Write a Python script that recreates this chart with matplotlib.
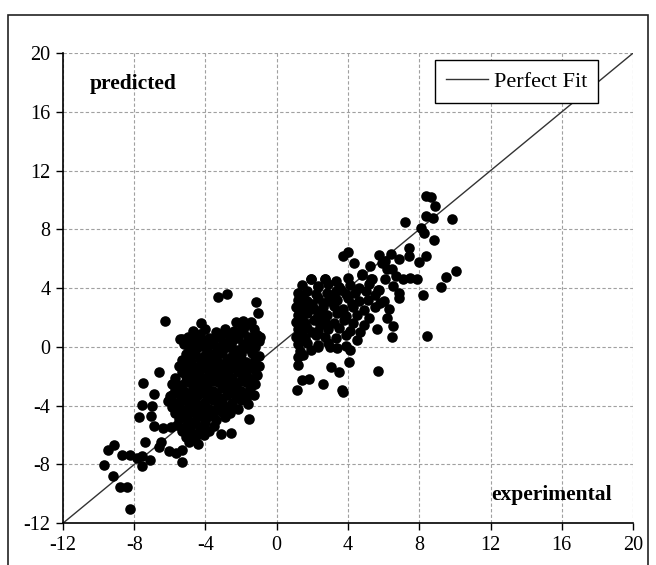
import numpy as np
import matplotlib.pyplot as plt
from matplotlib.patches import Rectangle

# points as (experimental, predicted)
# left group - dense middle part
left_core = [
    (-4.7, 1.1), (-4.0, 1.2), (-3.4, 1.0), (-2.9, 1.2), (-2.4, 1.1), (-1.9, 1.0), (-1.3, 1.2),
    (-5.0, 0.7), (-4.5, 0.8), (-3.8, 0.6), (-3.3, 0.7), (-2.7, 0.8), (-2.2, 0.6), (-1.6, 0.7), (-1.1, 0.8),
    (-5.2, 0.2), (-4.7, 0.3), (-4.2, 0.4), (-3.6, 0.2), (-3.0, 0.3), (-2.5, 0.4), (-1.9, 0.2), (-1.4, 0.3), (-1.0, 0.4),
    (-4.9, -0.1), (-4.4, 0.0), (-3.9, -0.2), (-3.3, -0.1), (-2.8, 0.0), (-2.2, -0.2), (-1.7, -0.1), (-1.2, 0.0),
    (-5.1, -0.5), (-4.6, -0.4), (-4.1, -0.6), (-3.6, -0.5), (-3.1, -0.4), (-2.5, -0.6), (-2.0, -0.5), (-1.4, -0.4), (-1.0, -0.6),
    (-5.3, -0.9), (-4.8, -1.0), (-4.3, -0.8), (-3.8, -0.9), (-3.3, -1.0), (-2.8, -0.8), (-2.3, -0.9), (-1.7, -1.0), (-1.2, -0.8),
    (-5.5, -1.3), (-5.0, -1.2), (-4.5, -1.4), (-4.0, -1.3), (-3.5, -1.2), (-3.0, -1.4), (-2.5, -1.3), (-2.0, -1.2), (-1.5, -1.4), (-1.0, -1.3),
    (-5.3, -1.7), (-4.8, -1.8), (-4.3, -1.6), (-3.8, -1.7), (-3.2, -1.8), (-2.7, -1.6), (-2.2, -1.7), (-1.7, -1.8), (-1.2, -1.6),
    (-5.7, -2.1), (-5.1, -2.0), (-4.6, -2.2), (-4.1, -2.1), (-3.6, -2.0), (-3.0, -2.2), (-2.5, -2.1), (-1.9, -2.0), (-1.4, -2.2), (-1.1, -1.9),
    (-5.9, -2.5), (-5.4, -2.6), (-4.9, -2.4), (-4.4, -2.5), (-3.9, -2.6), (-3.3, -2.4), (-2.8, -2.5), (-2.3, -2.6), (-1.7, -2.4), (-1.2, -2.5),
    (-5.7, -2.9), (-5.2, -3.0), (-4.7, -2.8), (-4.2, -2.9), (-3.6, -3.0), (-3.1, -2.8), (-2.6, -2.9), (-2.0, -3.0), (-1.5, -2.8),
    (-5.9, -3.3), (-5.4, -3.4), (-4.9, -3.2), (-4.4, -3.3), (-3.9, -3.4), (-3.4, -3.2), (-2.8, -3.3), (-2.3, -3.4), (-1.8, -3.2), (-1.3, -3.3),
    (-6.1, -3.7), (-5.6, -3.8), (-5.1, -3.6), (-4.6, -3.7), (-4.1, -3.8), (-3.6, -3.6), (-3.1, -3.7), (-2.5, -3.8), (-2.0, -3.6), (-1.6, -3.9),
    (-5.9, -4.1), (-5.4, -4.2), (-4.9, -4.0), (-4.4, -4.1), (-3.8, -4.2), (-3.3, -4.0), (-2.8, -4.1), (-2.2, -4.2),
    (-5.7, -4.5), (-5.2, -4.6), (-4.7, -4.4), (-4.2, -4.5), (-3.6, -4.6), (-3.1, -4.4), (-2.6, -4.5),
    (-5.5, -4.9), (-5.0, -5.0), (-4.5, -4.8), (-4.0, -4.9), (-3.4, -5.0), (-2.9, -4.8),
    (-5.6, -5.3), (-5.1, -5.4), (-4.6, -5.2), (-4.1, -5.3), (-3.5, -5.4),
    (-5.3, -5.7), (-4.8, -5.8), (-4.3, -5.6), (-3.8, -5.7),
    (-5.1, -6.1), (-4.6, -6.2), (-4.1, -6.0),
    (-4.9, -6.5), (-4.4, -6.6),
    # in-between points where the blob is solid black
    (-4.3, 0.9), (-3.1, 0.9), (-1.8, 1.4), (-4.0, 0.0), (-2.5, -0.1), (-4.8, -0.6),
    (-3.4, -0.7), (-2.0, -0.8), (-4.2, -1.1), (-2.8, -1.1), (-1.3, -1.1), (-5.0, -1.5),
    (-3.5, -1.5), (-2.0, -1.5), (-4.4, -1.9), (-2.9, -1.9), (-1.6, -2.1), (-5.1, -2.3),
    (-3.6, -2.3), (-2.0, -2.3), (-4.5, -2.7), (-3.0, -2.6), (-1.4, -2.6), (-5.4, -3.1),
    (-3.8, -3.1), (-2.3, -3.1), (-4.7, -3.5), (-3.2, -3.5), (-1.7, -3.5), (-5.5, -3.9),
    (-4.0, -4.0), (-2.5, -4.0), (-4.9, -4.3), (-3.4, -4.3), (-5.2, -4.8), (-3.8, -4.7),
    (-4.8, -5.3), (-4.0, -5.1), (-5.0, -5.9), (-4.4, -5.9),
]

# left group - scattered points round the edge
left_edge = [
    (-3.32, 3.40), (-2.81, 3.63), (-1.15, 3.05), (-1.03, 2.3), (-6.25, 1.78), (-4.24, 1.61),
    (-2.27, 1.68), (-1.9, 1.78), (-1.47, 1.72), (-1.97, 1.36), (-1.2, 0.9), (-0.92, 0.68),
    (-5.3, 0.55), (-5.44, 0.57), (-4.65, 0.26), (-4.03, 0.18), (-3.38, 0.0), (-2.6, 0.6),
    (-6.59, -1.71), (-7.52, -2.43), (-6.88, -3.23), (-5.97, -3.35), (-7.55, -3.98), (-7.0, -4.0),
    (-7.72, -4.75), (-7.06, -4.72), (-6.87, -5.41), (-6.38, -5.52), (-5.95, -5.48),
    (-7.37, -6.45), (-6.52, -6.49), (-6.59, -6.83), (-6.05, -7.1), (-5.67, -7.22), (-5.3, -7.05), (-5.3, -7.81),
    (-9.14, -6.67), (-9.49, -7.02), (-8.7, -7.33), (-8.21, -7.33), (-7.84, -7.53), (-7.55, -7.4), (-7.1, -7.7),
    (-9.7, -8.02), (-7.55, -8.14), (-9.18, -8.77), (-8.8, -9.57), (-8.42, -9.57), (-8.21, -11.0),
    (-3.13, -5.91), (-2.56, -5.87), (-1.53, -4.88),
]

# right group - dense middle part
right_core = [
    (1.9, 4.6), (2.7, 4.6), (3.3, 4.5), (4.0, 4.7), (4.8, 4.9), (5.3, 4.6),
    (1.4, 4.2), (2.3, 4.1), (2.9, 4.3), (3.5, 4.1), (4.1, 4.2), (4.6, 4.0), (5.2, 4.3), (5.7, 3.9),
    (1.2, 3.7), (1.7, 3.8), (2.2, 3.6), (2.8, 3.7), (3.3, 3.8), (3.9, 3.6), (4.4, 3.7), (5.0, 3.8), (5.5, 3.5),
    (1.2, 3.2), (1.7, 3.1), (2.3, 3.3), (2.9, 3.1), (3.4, 3.2), (4.0, 3.3), (4.6, 3.1), (5.1, 3.2), (5.8, 3.0),
    (1.1, 2.7), (1.6, 2.8), (2.1, 2.6), (2.6, 2.7), (3.2, 2.8), (3.7, 2.6), (4.3, 2.7), (4.9, 2.5), (5.5, 2.7),
    (1.2, 2.2), (1.7, 2.3), (2.3, 2.1), (2.8, 2.2), (3.4, 2.3), (3.9, 2.1), (4.5, 2.2), (5.2, 2.0),
    (1.1, 1.7), (1.6, 1.6), (2.1, 1.8), (2.7, 1.7), (3.2, 1.6), (3.8, 1.8), (4.3, 1.6), (4.9, 1.5),
    (1.2, 1.2), (1.7, 1.3), (2.3, 1.1), (2.9, 1.2), (3.5, 1.3), (4.1, 1.1), (4.7, 1.0),
    (1.1, 0.7), (1.6, 0.6), (2.2, 0.8), (2.7, 0.7), (3.3, 0.6), (3.9, 0.8),
    (1.2, 0.2), (1.7, 0.3), (2.3, 0.1), (2.9, 0.3),
    (1.3, -0.3), (1.9, -0.2),
    (1.4, 2.5), (2.0, 2.9), (2.5, 2.4), (3.1, 3.4), (1.4, 1.9), (2.4, 1.5),
    (1.4, 0.9), (2.0, 1.0), (1.5, 3.4), (3.6, 3.9), (4.2, 2.9), (2.6, 3.0),
]

# right group - scattered points round the edge
right_edge = [
    (8.36, 10.29), (8.64, 10.2), (8.88, 9.6), (8.4, 8.9), (8.78, 8.75), (9.86, 8.7), (7.18, 8.47),
    (8.07, 8.1), (8.26, 7.78), (8.85, 7.27), (7.41, 6.7), (7.41, 6.19), (8.36, 6.17), (7.98, 5.78),
    (3.74, 6.19), (4.02, 6.46), (4.33, 5.73), (5.72, 6.27), (6.42, 6.3), (6.85, 5.96),
    (5.24, 5.53), (5.91, 5.73), (6.19, 5.27), (6.1, 5.84), (6.47, 5.27),
    (6.7, 4.8), (7.1, 4.65), (7.5, 4.7), (7.9, 4.6),
    (9.49, 4.77), (10.05, 5.16), (9.2, 4.06), (8.2, 3.56), (8.45, 0.71), (6.45, 0.67), (5.66, -1.64),
    (4.77, 4.93), (5.34, 4.59), (5.72, 3.9), (6.1, 4.59), (6.5, 4.13), (6.85, 3.68), (6.85, 3.34),
    (1.95, 4.64), (2.7, 4.59), (2.33, 4.13),
    (6.5, 1.4), (6.2, 1.95), (6.3, 2.6), (6.0, 3.1), (5.6, 1.2),
    (1.2, -0.66), (1.48, -0.56), (1.2, -1.23), (1.39, -2.26), (1.8, -2.2), (1.15, -2.93), (2.57, -2.55),
    (3.03, -1.35), (3.52, -1.72), (3.65, -2.9), (3.74, -3.06), (4.05, -1.0), (3.89, 0.09),
    (4.11, -0.2), (4.5, 0.5), (2.99, 0.02), (3.37, -0.09), (2.33, 0.02),
]

ticks = [-12, -8, -4, 0, 4, 8, 12, 16, 20]
fit_line = [-12, 20]

pts = np.array(left_core + left_edge + right_core + right_edge)

plt.rcParams['font.family'] = ['Liberation Serif', 'DejaVu Serif']
plt.rcParams['axes.unicode_minus'] = False

fig = plt.figure(figsize=(6.56, 5.65), dpi=100)
ax = fig.add_axes([0.096, 0.074, 0.869, 0.832])

ax.plot(fit_line, fit_line, color='#333333', lw=1, label='Perfect Fit', zorder=2)
ax.scatter(pts[:, 0], pts[:, 1], s=58, c='black', linewidths=0, zorder=3)

ax.set_xlim(-12, 20)
ax.set_ylim(-12, 20)
ax.set_xticks(ticks)
ax.set_yticks(ticks)
ax.grid(True, ls=(0, (3, 2)), color='#a0a0a0', lw=0.8)
ax.set_axisbelow(True)
ax.spines['top'].set_visible(False)
ax.spines['right'].set_visible(False)
ax.spines['left'].set_linewidth(1.2)
ax.spines['bottom'].set_linewidth(1.2)
ax.tick_params(direction='out', length=5, width=1, labelsize=14.5, pad=4)

ax.text(-10.5, 17.9, 'predicted', fontsize=15.5, fontweight='bold', va='center')
ax.text(18.8, -10.1, 'experimental', fontsize=15.5, fontweight='bold', va='center', ha='right')

leg = ax.legend(loc='upper right', bbox_to_anchor=(0.939, 0.985), fontsize=16,
                fancybox=False, framealpha=1, edgecolor='black', handlelength=1.9,
                borderpad=0.5, handletextpad=0.25, borderaxespad=0)
leg.get_frame().set_linewidth(1.0)

# frame round the whole picture, cut off at the bottom
fig.patches.append(Rectangle((8 / 656, -0.05), 640 / 656, 1.05 - 15 / 565,
                             transform=fig.transFigure, fill=False,
                             edgecolor='#222222', lw=1.2))

fig.savefig('out.png', dpi=100)
